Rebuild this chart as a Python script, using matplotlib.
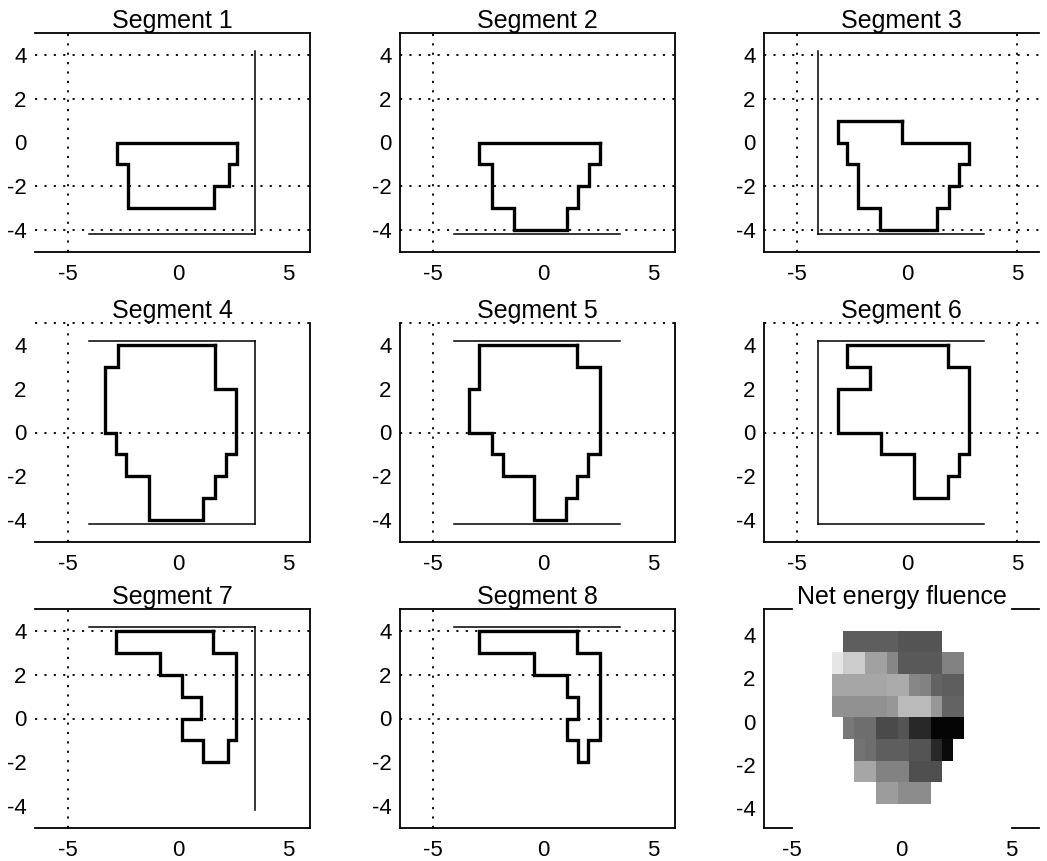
import numpy as np
import matplotlib
matplotlib.use('Agg')
import matplotlib.pyplot as plt

plt.rcParams['font.family'] = ['Liberation Sans', 'DejaVu Sans']
plt.rcParams['axes.unicode_minus'] = False

titles = ['Segment 1', 'Segment 2', 'Segment 3', 'Segment 4', 'Segment 5',
          'Segment 6', 'Segment 7', 'Segment 8', 'Net energy fluence']

# leaf pairs: bottom edge of each 1 cm leaf row (top to bottom), left / right leaf tips (cm)
seg1_rows = [-1, -2, -3]
seg1_left = [-2.77, -2.27, -2.27]
seg1_right = [2.68, 2.32, 1.65]

seg2_rows = [-1, -2, -3, -4]
seg2_left = [-2.91, -2.31, -2.31, -1.31]
seg2_right = [2.57, 2.1, 1.6, 1.1]

seg3_rows = [0, -1, -2, -3, -4]
seg3_left = [-3.14, -2.73, -2.22, -2.22, -1.22]
seg3_right = [-0.23, 2.83, 2.37, 1.91, 1.38]

seg4_rows = [3, 2, 1, 0, -1, -2, -3, -4]
seg4_left = [-2.73, -3.33, -3.33, -3.33, -2.8, -2.35, -1.32, -1.32]
seg4_right = [1.67, 1.67, 2.65, 2.65, 2.65, 2.2, 1.67, 1.14]

seg5_rows = [3, 2, 1, 0, -1, -2, -3, -4]
seg5_left = [-2.91, -2.91, -3.36, -3.36, -2.31, -1.84, -0.42, -0.42]
seg5_right = [1.54, 2.57, 2.57, 2.57, 2.57, 2.04, 1.54, 1.04]

seg6_rows = [3, 2, 1, 0, -1, -2, -3]
seg6_left = [-2.73, -1.68, -3.14, -3.14, -1.19, 0.31, 0.31]
seg6_right = [1.87, 2.83, 2.83, 2.83, 2.83, 2.37, 1.87]

seg7_rows = [3, 2, 1, 0, -1, -2]
seg7_left = [-2.8, -0.83, 0.18, 1.06, 0.18, 1.14]
seg7_right = [1.59, 2.65, 2.65, 2.65, 2.65, 2.27]

seg8_rows = [3, 2, 1, 0, -1, -2]
seg8_left = [-2.91, -0.42, 1.07, 1.57, 1.07, 1.61]
seg8_right = [1.54, 2.57, 2.57, 2.57, 2.57, 2.04]

# collimator jaws (cm)
jaw_x = [-4.05, 3.5]
jaw_y = [-4.2, 4.2]

# net energy fluence (relative units, 0 = none), rows from top to bottom
fluence_x = [-3.15, -2.65, -2.15, -1.65, -1.15, -0.65, -0.15, 0.35, 0.85, 1.35, 1.85, 2.35, 2.85]
fluence_y = [4.2, 3.2, 2.2, 1.2, 0.2, -0.8, -1.8, -2.8, -3.8]
fluence = [
    [0, 63, 63, 63, 63, 63, 67, 67, 67, 67, 0, 0],
    [10, 20, 20, 37, 37, 47, 65, 65, 65, 65, 49, 49],
    [35, 35, 35, 35, 35, 33, 33, 47, 49, 61, 63, 63],
    [43, 43, 43, 43, 43, 41, 27, 27, 27, 41, 61, 61],
    [0, 53, 57, 57, 71, 71, 67, 84, 84, 98, 98, 98],
    [0, 0, 55, 57, 63, 63, 63, 67, 67, 84, 96, 0],
    [0, 0, 35, 35, 49, 49, 49, 69, 69, 69, 0, 0],
    [0, 0, 0, 0, 39, 39, 45, 45, 45, 0, 0, 0],
]

segments = [(seg1_rows, seg1_left, seg1_right), (seg2_rows, seg2_left, seg2_right),
            (seg3_rows, seg3_left, seg3_right), (seg4_rows, seg4_left, seg4_right),
            (seg5_rows, seg5_left, seg5_right), (seg6_rows, seg6_left, seg6_right),
            (seg7_rows, seg7_left, seg7_right), (seg8_rows, seg8_left, seg8_right)]

# which jaw edges show in each segment plot
jaw_edges = [['bottom', 'right'], ['bottom'], ['left', 'bottom'], ['top', 'bottom', 'right'],
             ['top', 'bottom'], ['top', 'bottom', 'left'], ['top', 'right'], ['top']]

# what survived of the grid and frame in the printed figure
grid_x = [[-5], [-5], [-5, 5], [-5], [-5], [-5, 5], [-5], [-5]]
grid_y = [[4, 2, -2, -4], [4, 2, -2, -4], [4, 2, -2, -4], [0], [0], [0], [4, 2, 0], [4, 2, 0]]
frame = [['top', 'right', 'bottom'], ['top', 'right', 'bottom', 'left'], ['top', 'left', 'bottom'],
         ['right', 'bottom'], ['left', 'right', 'bottom'], ['left', 'bottom'],
         ['top', 'right', 'bottom'], ['top', 'right', 'bottom', 'left']]

dotted = (0, (1.2, 4))


def outline(rows, left, right):
    xs, ys = [], []
    for y, r in zip(rows, right):
        xs += [r, r]
        ys += [y + 1, y]
    for y, l in zip(rows[::-1], left[::-1]):
        xs += [l, l]
        ys += [y, y + 1]
    xs.append(xs[0])
    ys.append(ys[0])
    return xs, ys


W, H = 1047, 861
fig = plt.figure(figsize=(W / 100, H / 100), dpi=100)
lefts = [35, 400, 764]
tops = [33, 323, 609]
aw, ah = 275, 219

for i in range(9):
    r, c = divmod(i, 3)
    ax = fig.add_axes([lefts[c] / W, (H - tops[r] - ah) / H, aw / W, ah / H])
    ax.set_xticks([-5, 0, 5])
    ax.set_yticks([-4, -2, 0, 2, 4])
    ax.tick_params(length=0, labelsize=16)
    ax.tick_params(axis='x', pad=9)
    ax.tick_params(axis='y', pad=6)
    ax.set_title(titles[i], fontsize=18, pad=3)

    if i < 8:
        ax.set_xlim(-6.5, 6)
        ax.set_ylim(-5, 5)
        for gx in grid_x[i]:
            ax.axvline(gx, color='black', lw=1.3, ls=dotted, zorder=1)
        for gy in grid_y[i]:
            ax.axhline(gy, color='black', lw=1.3, ls=dotted, zorder=1)
        for side, sp in ax.spines.items():
            sp.set_linewidth(1.3)
            sp.set_visible(side in frame[i])
        if r == 1:
            ax.axhline(5, color='black', lw=1.3, ls=dotted, clip_on=False)

        for e in jaw_edges[i]:
            if e == 'bottom':
                ax.plot(jaw_x, [jaw_y[0]] * 2, color='black', lw=1.1)
            elif e == 'top':
                ax.plot(jaw_x, [jaw_y[1]] * 2, color='black', lw=1.1)
            elif e == 'left':
                ax.plot([jaw_x[0]] * 2, jaw_y, color='black', lw=1.1)
            else:
                ax.plot([jaw_x[1]] * 2, jaw_y, color='black', lw=1.1)

        xs, ys = outline(*segments[i])
        ax.plot(xs, ys, color='black', lw=2.4, solid_joinstyle='miter', zorder=3)
    else:
        ax.pcolormesh(fluence_x, fluence_y, np.array(fluence), cmap='gray_r',
                      vmin=0, vmax=100, shading='flat')
        ax.set_xlim(-6.25, 6.25)
        ax.set_ylim(-4.9, 5.2)
        for sp in ax.spines.values():
            sp.set_visible(False)
        ax.spines['left'].set_visible(True)
        ax.spines['left'].set_linewidth(1.3)
        for y0 in (0, 1):
            ax.plot([0, 0.1], [y0, y0], transform=ax.transAxes, color='black', lw=1.3, clip_on=False)
            ax.plot([0.9, 1.0], [y0, y0], transform=ax.transAxes, color='black', lw=1.3, clip_on=False)

fig.savefig('out.png', dpi=100)
